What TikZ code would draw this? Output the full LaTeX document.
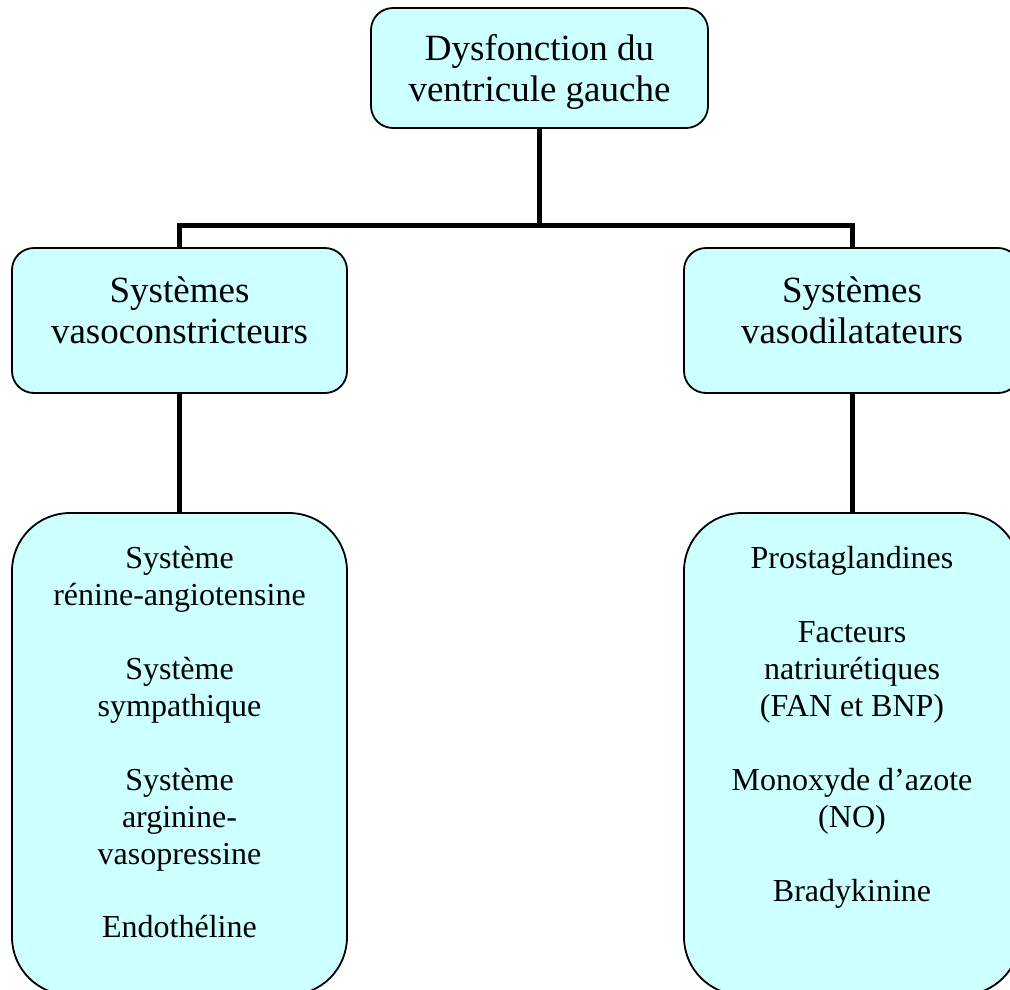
\documentclass[tikz,border=0pt]{standalone}
\usepackage{fontspec}
\setmainfont{Liberation Serif}
\begin{document}
\begin{tikzpicture}[x=1pt,y=-1pt,
  box/.style={draw=black, line width=1.8pt, fill=boxcyan, inner sep=0pt},
  bigtxt/.style={align=center, inner sep=0pt, anchor=north, font=\fontsize{37}{41.5}\selectfont},
  smalltxt/.style={align=center, inner sep=0pt, anchor=north, font=\fontsize{32}{36.9}\selectfont},
  conn/.style={draw=black, line width=5pt, line join=miter}]
\definecolor{boxcyan}{HTML}{CCFFFF}
\clip (0,0) rectangle (1010,989);
\fill[white] (0,0) rectangle (1010,989);
% boxes
\node[box, minimum width=337pt, minimum height=120pt, rounded corners=22pt] (top) at (539.5,68) {};
\node[box, minimum width=335pt, minimum height=145pt, rounded corners=22pt] (lmid) at (179.5,320.5) {};
\node[box, minimum width=336pt, minimum height=145pt, rounded corners=22pt] (rmid) at (852,320.5) {};
\node[box, minimum width=335pt, minimum height=482pt, rounded corners=58pt] (lbot) at (179.5,754) {};
\node[box, minimum width=336pt, minimum height=482pt, rounded corners=58pt] (rbot) at (852,754) {};
% texts
\node[bigtxt] (toptxt) at (539.5,34) {Dysfonction du\\ventricule gauche};
\node[bigtxt] (lmidtxt) at (179.5,276.5) {Systèmes\\vasoconstricteurs};
\node[bigtxt] (rmidtxt) at (852,276.5) {Systèmes\\vasodilatateurs};
\node[smalltxt] (lbottxt) at (179.5,546.5) {Système\\rénine-angiotensine\\[36.9pt]Système\\sympathique\\[36.9pt]Système\\arginine-\\vasopressine\\[36.9pt]Endothéline};
\node[smalltxt] (rbottxt) at (852,546.5) {Prostaglandines\\[36.9pt]Facteurs\\natriurétiques\\(FAN et BNP)\\[36.9pt]Monoxyde d’azote\\(NO)\\[36.9pt]Bradykinine};
% connectors
\coordinate (bar) at (540,225);
\draw[conn] (top.south) -- (top.south |- bar);
\draw[conn] (lmid.north) |- (bar) -| (rmid.north);
\draw[conn] (lmid.south) -- (lbot.north);
\draw[conn] (rmid.south) -- (rbot.north);
\end{tikzpicture}
\end{document}
